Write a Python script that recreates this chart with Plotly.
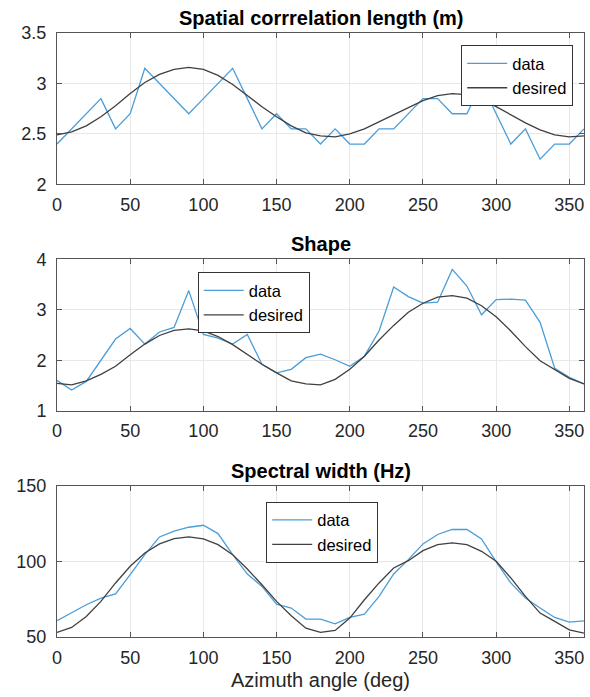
import plotly.graph_objects as go
from plotly.subplots import make_subplots

azimuth = list(range(0, 361, 10))

corr_data = [2.4, 2.55, 2.7, 2.85, 2.55, 2.7, 3.15, 3.0, 2.85, 2.7,
             2.85, 3.0, 3.15, 2.85, 2.55, 2.7, 2.55, 2.55, 2.4, 2.55,
             2.4, 2.4, 2.55, 2.55, 2.7, 2.85, 2.85, 2.7, 2.7, 3.0,
             2.7, 2.4, 2.55, 2.25, 2.4, 2.4, 2.55]
corr_desired = [2.49, 2.52, 2.58, 2.67, 2.78, 2.9, 3.01, 3.09, 3.14, 3.16,
                3.14, 3.08, 2.99, 2.88, 2.77, 2.67, 2.58, 2.51, 2.48, 2.47,
                2.5, 2.55, 2.62, 2.69, 2.76, 2.83, 2.88, 2.9, 2.89, 2.84,
                2.77, 2.69, 2.61, 2.54, 2.49, 2.47, 2.48]

shape_data = [1.6, 1.41, 1.58, 1.99, 2.42, 2.63, 2.32, 2.56, 2.65, 3.38,
              2.51, 2.44, 2.32, 2.51, 1.92, 1.75, 1.82, 2.05, 2.12, 2.01,
              1.88, 2.08, 2.58, 3.45, 3.26, 3.13, 3.15, 3.8, 3.47, 2.9,
              3.2, 3.21, 3.19, 2.75, 1.84, 1.66, 1.53]
shape_desired = [1.54, 1.51, 1.59, 1.72, 1.88, 2.11, 2.32, 2.49, 2.59, 2.62,
                 2.58, 2.47, 2.31, 2.12, 1.92, 1.75, 1.59, 1.53, 1.51, 1.62,
                 1.82, 2.08, 2.4, 2.69, 2.95, 3.13, 3.25, 3.28, 3.23, 3.08,
                 2.86, 2.58, 2.27, 1.99, 1.82, 1.64, 1.53]

width_data = [60.7, 65.8, 71.3, 75.7, 78.4, 91.2, 104.4, 116.1, 119.9, 122.5,
              123.8, 118.3, 104.4, 91.6, 83.4, 71.7, 69.1, 61.8, 61.8, 58.7,
              62.9, 65.1, 76.8, 91.6, 101.1, 111.5, 117.7, 121.0, 121.0, 114.8,
              99.6, 85.7, 75.7, 69.1, 62.9, 59.8, 60.7]
width_desired = [53.0, 56.3, 63.6, 73.5, 85.7, 96.7, 105.5, 111.5, 115.0, 116.1,
                 114.8, 111.0, 104.4, 94.9, 84.5, 73.5, 64.0, 55.8, 53.0, 54.3,
                 62.5, 74.6, 85.7, 95.6, 100.4, 107.0, 111.0, 112.1, 111.0, 106.6,
                 100.0, 89.0, 76.8, 65.8, 60.3, 54.7, 52.5]

titles = ["Spatial corrrelation length (m)", "Shape", "Spectral width (Hz)"]
x_ticks = [0, 50, 100, 150, 200, 250, 300, 350]
y_ticks = [[2, 2.5, 3, 3.5], [1, 2, 3, 4], [50, 100, 150]]
y_ranges = [[2, 3.5], [1, 4], [50, 150]]
x_label = "Azimuth angle (deg)"

panels = [(corr_data, corr_desired), (shape_data, shape_desired), (width_data, width_desired)]
legend_pos = [(0.767, 0.980), (0.267, 0.604), (0.397, 0.224)]

FONT = "Liberation Sans, Arial, Helvetica, sans-serif"
BLUE = "#4a9dd8"
GRAY = "#404040"
TXT = "#262626"

fig = make_subplots(rows=3, cols=1, vertical_spacing=0.124)

for i, (d, des) in enumerate(panels):
    lg = "legend" if i == 0 else f"legend{i+1}"
    fig.add_trace(go.Scatter(x=azimuth, y=d, mode="lines", name="data",
                             line=dict(color=BLUE, width=1.3), legend=lg), row=i+1, col=1)
    fig.add_trace(go.Scatter(x=azimuth, y=des, mode="lines", name="desired",
                             line=dict(color=GRAY, width=1.3), legend=lg), row=i+1, col=1)
    fig.update_xaxes(range=[0, 360], tickvals=x_ticks, ticks="inside", ticklen=5,
                     tickcolor="#555555", showline=True, linecolor="#555555", linewidth=1,
                     mirror="ticks", showgrid=True, gridcolor="#e8e8e8", gridwidth=1,
                     zeroline=False, tickfont=dict(family=FONT, size=18, color=TXT),
                     ticklabelstandoff=4, automargin=False, row=i+1, col=1)
    fig.update_yaxes(range=y_ranges[i], tickvals=y_ticks[i], ticks="inside", ticklen=5,
                     tickcolor="#555555", showline=True, linecolor="#555555", linewidth=1,
                     mirror="ticks", showgrid=True, gridcolor="#e8e8e8", gridwidth=1,
                     zeroline=False, tickfont=dict(family=FONT, size=18, color=TXT),
                     ticklabelstandoff=6, automargin=False, row=i+1, col=1)
    xr = "x domain" if i == 0 else f"x{i+1} domain"
    yr = "y domain" if i == 0 else f"y{i+1} domain"
    fig.add_annotation(text=f"<b>{titles[i]}</b>", xref=xr, yref=yr, x=0.5, y=1,
                       xanchor="center", yanchor="bottom", yshift=2, showarrow=False,
                       font=dict(family=FONT, size=20, color="#000000"))

fig.update_xaxes(title=dict(text=x_label, font=dict(family=FONT, size=20, color=TXT), standoff=6),
                 row=3, col=1)

legend_style = dict(bgcolor="#ffffff", bordercolor="#333333", borderwidth=1,
                    font=dict(family=FONT, size=16.5, color="#000000"),
                    xanchor="left", yanchor="top", itemwidth=40,
                    tracegroupgap=0)
layout_legends = {}
for i, (lx, ly) in enumerate(legend_pos):
    key = "legend" if i == 0 else f"legend{i+1}"
    layout_legends[key] = dict(x=lx, y=ly, **legend_style)

fig.update_layout(width=590, height=697, margin=dict(l=57, r=6, t=33, b=60, autoexpand=False),
                  paper_bgcolor="#ffffff", plot_bgcolor="#ffffff", showlegend=True,
                  hovermode=False, **layout_legends)

fig.write_html("out.html",
               config={"displayModeBar": False, "staticPlot": False},
               post_script="document.body.style.margin='0';document.body.style.padding='0';"
                           "document.body.style.overflow='hidden';"
                           "document.documentElement.style.overflow='hidden';")
